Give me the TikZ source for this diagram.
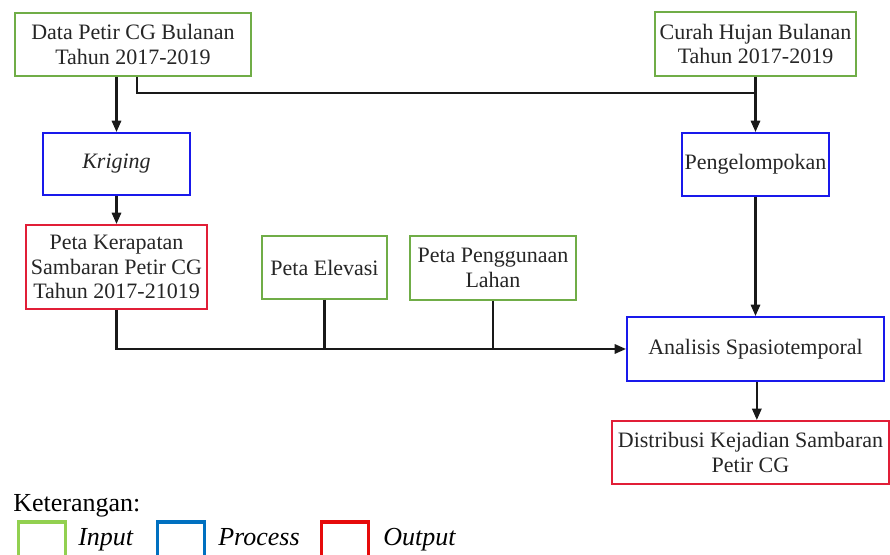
\documentclass[tikz,border=0pt]{standalone}
\usepackage{fontspec}
\setmainfont{Liberation Serif}
\usepackage{tikz}
\usetikzlibrary{arrows.meta}

\definecolor{inGreen}{RGB}{112,173,71}
\definecolor{procBlue}{RGB}{25,25,235}
\definecolor{outRed}{RGB}{225,30,55}
\definecolor{keyGreen}{RGB}{146,208,80}
\definecolor{keyBlue}{RGB}{0,112,192}
\definecolor{keyRed}{RGB}{230,10,10}

\tikzset{
  box/.style={draw, line width=1.5pt, fill=white, inner sep=0pt, align=center,
    font=\fontsize{16.5}{18.5}\selectfont, text=black!85},
  inbox/.style={box, draw=inGreen},
  procbox/.style={box, draw=procBlue},
  outbox/.style={box, draw=outRed},
  link/.style={line width=1.6pt, black!90},
  flow/.style={link, -{Triangle[length=8.5pt,width=7pt]}},
  keybox/.style={draw, line width=2.3pt, minimum width=35pt, minimum height=30pt, inner sep=0pt},
  keytext/.style={anchor=base west, inner sep=0pt, font=\fontsize{19.5}{22}\selectfont\itshape}
}

\begin{document}
\begin{tikzpicture}[x=0.75pt,y=0.75pt,yscale=-1,xscale=1]
\useasboundingbox (0,0) rectangle (890,555);

%Shape: Rectangle (inputs)
\node [inbox, minimum width=177pt, minimum height=47.25pt] (data) at (133,44.5) {Data Petir CG Bulanan\\Tahun 2017-2019};
\node [inbox, minimum width=150.75pt, minimum height=48pt] (curah) at (755.5,44) {Curah Hujan Bulanan\\Tahun 2017-2019};
\node [inbox, minimum width=93.75pt, minimum height=47.25pt] (elevasi) at (324.5,267.5) {Peta Elevasi};
\node [inbox, minimum width=124.5pt, minimum height=48pt] (guna) at (493,268) {Peta Penggunaan\\Lahan};

%Shape: Rectangle (processes)
\node [procbox, minimum width=110.25pt, minimum height=46.5pt] (kriging) at (116.5,164) {\itshape Kriging};
\node [procbox, minimum width=110.25pt, minimum height=47.25pt] (kelompok) at (755.5,164.5) {Pengelompokan};
\node [procbox, minimum width=192.75pt, minimum height=48pt] (analisis) at (755.5,349) {Analisis Spasiotemporal};

%Shape: Rectangle (outputs)
\node [outbox, minimum width=135.75pt, minimum height=63pt] (kerapatan) at (116.5,267) {Peta Kerapatan\\Sambaran Petir CG\\Tahun 2017-21019};
\node [outbox, minimum width=207.75pt, minimum height=47.25pt] (distribusi) at (750.5,452.5) {Distribusi Kejadian Sambaran\\Petir CG};

%Straight Lines
\coordinate (merge) at (755.5,93);
\draw [flow] (data.south -| kriging.north) -- (kriging.north);
\draw [link] ([xshift=3pt]data.south) |- (merge);
\draw [flow] (curah.south) -- (kelompok.north);
\draw [flow] (kriging.south) -- (kerapatan.north);
\draw [flow] (kelompok.south) -- (analisis.north);
\draw [flow] (kerapatan.south) |- (analisis.west);
\draw [link] (elevasi.south) -- (elevasi.south |- analisis.west);
\draw [link] (guna.south) -- (guna.south |- analisis.west);
\draw [flow] ([xshift=1pt]analisis.south) -- ([xshift=1pt]analisis.south |- distribusi.north);

% Legend
\node [anchor=base west, inner sep=0pt, font=\fontsize{19.5}{22}\selectfont] (ket) at (13,512) {Keterangan:};
\node [keybox, draw=keyGreen] (kin) at (42,542) {};
\node [keytext] (tin) at (78,546) {Input};
\node [keybox, draw=keyBlue] (kproc) at (181,542) {};
\node [keytext] (tproc) at (218,546) {Process};
\node [keybox, draw=keyRed] (kout) at (345,542) {};
\node [keytext] (tout) at (383,546) {Output};

\end{tikzpicture}
\end{document}
